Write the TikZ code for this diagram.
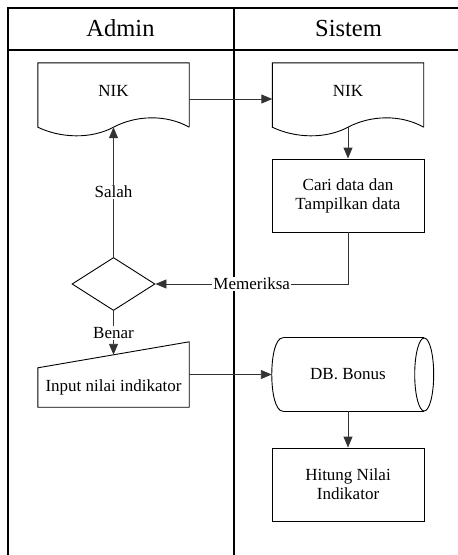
\documentclass[tikz,border=0pt]{standalone}
\usepackage{fontspec}
\setmainfont{Liberation Serif}
\usetikzlibrary{arrows.meta,shapes.geometric,calc}

\tikzset{
  lane/.style={line width=1.4pt, black},
  outline/.style={line width=0.9pt, black},
  conn/.style={line width=0.9pt, black!80, -{Triangle[length=11pt,width=9pt]}},
  hdr/.style={font=\fontsize{24.5}{28}\selectfont, inner sep=0pt},
  body/.style={font=\fontsize{17}{19}\selectfont, align=center, inner sep=0pt, text=black},
  docnode/.style={body, minimum width=151pt, minimum height=64pt, text height=12pt, text depth=10pt},
  procnode/.style={body, draw, outline, minimum width=152pt, minimum height=73pt},
  decision/.style={diamond, draw, outline, inner sep=0pt, minimum width=83pt, minimum height=53pt},
  lab/.style={body, fill=white, inner sep=1pt}
}

% document symbol outline with a wavy lower edge
\newcommand{\docoutline}[1]{%
  \draw[outline] (#1.south east) -- (#1.north east) -- (#1.north west) -- (#1.south west)
    .. controls +(23,11) and +(-22.5,12) .. (#1.south)
    .. controls +(22.5,-12) and +(-23,-13) .. (#1.south east);
}

\begin{document}
\begin{tikzpicture}[x=1pt, y=-1pt]
\useasboundingbox (0,0) rectangle (458,555);

% swimlanes
\draw[lane] (458,8) -- (8,8) -- (8,555);
\draw[lane] (8,50) -- (458,50);
\draw[lane] (234,8) -- (234,555);
\node[hdr, anchor=base] (hA) at (120.5,36.7) {Admin};
\node[hdr, anchor=base] (hS) at (348.5,36.7) {Sistem};

% Admin lane
\node[docnode] (nikA) at (113.5,95) {NIK};
\docoutline{nikA}
\node[decision] (dec) at (113.5,284) {};
\node[body, minimum width=151pt, minimum height=39pt] (inp) at (113.5,387.5) {Input nilai indikator};
\draw[outline] (inp.north west) -- ([yshift=26pt]inp.north east) -- (inp.south east) -- (inp.south west) -- cycle;

% Sistem lane
\node[docnode] (nikS) at (348,95) {NIK};
\docoutline{nikS}
\node[procnode] (cari) at (348,195.5) {Cari data dan\\Tampilkan data};
\node[body, minimum width=152pt, minimum height=73pt] (db) at (348,374.5) {DB. Bonus};
\draw[outline] ([xshift=11pt]db.north west) -- (db.north east);
\draw[outline] ([xshift=11pt]db.south west) -- (db.south east);
\draw[outline] ([xshift=11pt]db.north west) .. controls +(-14.7,0) and +(-14.7,0) .. ([xshift=11pt]db.south west);
\draw[outline] (db.east) ellipse [x radius=9.5pt, y radius=36.5pt];
\node[procnode] (hit) at (348,484.5) {Hitung Nilai\\Indikator};

% flow
\draw[conn] ([yshift=-4pt]nikA.east) -- ([yshift=-4pt]nikS.west);
\draw[conn] (nikS.south) -- (cari.north);
\draw[conn] (cari.south) |- (dec.east) node[lab, pos=0.75] {Memeriksa};
\draw[conn] (dec.north) -- (nikA.south) node[lab, midway] {Salah};
\draw[conn] (dec.south) -- ([yshift=13pt]inp.north) node[lab, midway] {Benar};
\draw[conn] (inp.east |- db.west) -- (db.west);
\draw[conn] (db.south) -- (hit.north);
\end{tikzpicture}
\end{document}
